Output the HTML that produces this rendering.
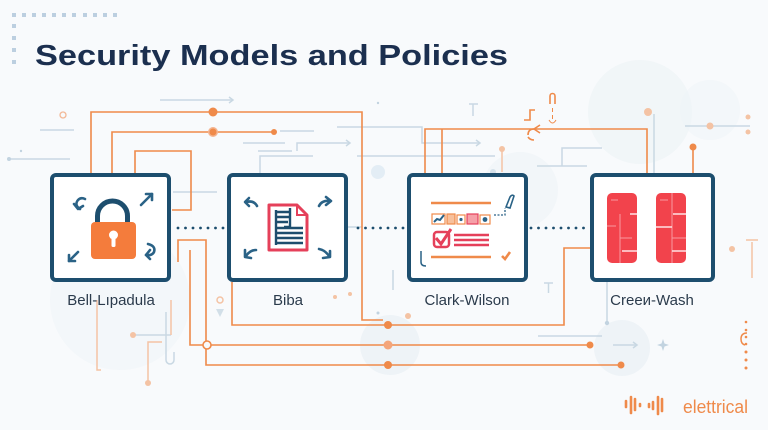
<!DOCTYPE html>
<html><head><meta charset="utf-8"><style>
html,body{margin:0;padding:0;background:#f8fafc;}
svg{display:block;}
</style></head><body>
<svg width="768" height="430" viewBox="0 0 768 430" xmlns="http://www.w3.org/2000/svg">
<rect width="768" height="430" fill="#f8fafc"/>
<!-- faint background circles -->
<g fill="#eef3f7">
<circle cx="640" cy="112" r="52" opacity="0.7"/>
<circle cx="390" cy="345" r="30"/>
<circle cx="622" cy="348" r="28"/>
<circle cx="120" cy="300" r="70" opacity="0.5"/>
<circle cx="520" cy="190" r="38" opacity="0.6"/>
<circle cx="710" cy="110" r="30" opacity="0.5"/>
</g>
<circle cx="378" cy="172" r="7" fill="#e3edf5"/>

<!-- dotted grid top-left -->
<g fill="#bccfe0">
<rect x="12" y="13" width="4" height="4"/><rect x="22" y="13" width="4" height="4"/><rect x="32" y="13" width="4" height="4"/><rect x="42" y="13" width="4" height="4"/><rect x="52" y="13" width="4" height="4"/><rect x="62" y="13" width="4" height="4"/><rect x="72" y="13" width="4" height="4"/><rect x="83" y="13" width="4" height="4"/><rect x="93" y="13" width="4" height="4"/><rect x="103" y="13" width="4" height="4"/><rect x="113" y="13" width="4" height="4"/>
<rect x="12" y="24" width="4" height="4"/><rect x="12" y="36" width="4" height="4"/><rect x="12" y="48" width="4" height="4"/><rect x="12" y="60" width="4" height="4"/>
</g>

<!-- title -->
<text x="35" y="65" font-family="Liberation Sans, sans-serif" font-weight="bold" font-size="29" fill="#1b2f4f" textLength="473" lengthAdjust="spacingAndGlyphs">Security Models and Policies</text>

<!-- light gray decorative lines -->
<g stroke="#c9d8e3" stroke-width="1.5" fill="none">
<path d="M160,100 H233"/><path d="M229,97 L233,100 L229,103"/>
<path d="M40,130 H74"/>
<path d="M9,159 H70"/>
<path d="M243,143 H285"/>
<path d="M280,131 H314"/>
<path d="M258,151 H292"/>
<path d="M297,151 V143 H350"/><path d="M346,140 L350,143 L346,146"/>
<path d="M260,173 V156 H313"/>
<path d="M337,127 H422 V143 H480"/><path d="M476,140 L480,143 L476,146"/>
<path d="M357,156 H495"/>
<path d="M469,104 H478 M473,104 V116"/>
<path d="M562,166 V148 H602"/>
<path d="M537,166 H587"/>
<path d="M685,126 H750"/>
<path d="M654,114 V173"/>
<path d="M173,192 H217"/>
<path d="M538,336 H602"/>
<path d="M607,282 V323"/>
<path d="M613,345 H637"/><path d="M633,342 L637,345 L633,348"/>
<path d="M544,283 H553 M548.5,283 V293"/>
<path d="M393,270 V290"/>
<path d="M166,312 V360 a4,4 0 0 0 8,0 V352"/>
<path d="M133,335 H171"/>
<path d="M348,227 H362"/>
</g>
<g fill="#c2d3e0">
<circle cx="9" cy="159" r="2"/>
<circle cx="21" cy="151" r="1.2"/>
<circle cx="378" cy="103" r="1.2"/>
<circle cx="607" cy="323" r="2.2"/>
<circle cx="493" cy="172" r="3" opacity="0.6"/>
<circle cx="378" cy="313" r="1.5"/>
<path d="M663,339 L664.5,343.5 L669,345 L664.5,346.5 L663,351 L661.5,346.5 L657,345 L661.5,343.5Z"/>
<path d="M216,309 L224,309 L220,317Z" opacity="0.7"/>
</g>
<circle cx="63" cy="115" r="3" fill="none" stroke="#f3b896" stroke-width="1.3"/>

<!-- faint orange decor -->
<g fill="#f4c3a4">
<circle cx="710" cy="126" r="3.5"/>
<circle cx="748" cy="117" r="2.5"/>
<circle cx="748" cy="132" r="2.5"/>
<circle cx="648" cy="112" r="4"/>
<circle cx="502" cy="149" r="3"/>
<circle cx="408" cy="316" r="3"/>
<circle cx="732" cy="249" r="3"/>
<circle cx="335" cy="297" r="2"/>
<circle cx="350" cy="294" r="2"/>
<circle cx="148" cy="383" r="3"/>
<circle cx="133" cy="335" r="3"/>
</g>
<g stroke="#f4c3a4" stroke-width="1.5" fill="none">
<path d="M502,149 V172"/>
<path d="M752,242 V278 M746,240 H758"/>
<path d="M148,383 V342 H162"/>
<path d="M97,300 V370 H101"/>
<path d="M171,300 V335"/>
<circle cx="220" cy="300" r="3"/>
</g>

<!-- orange connector lines -->
<g stroke="#ef8a4a" stroke-width="1.6" fill="none">
<path d="M91,175 V112 H362 V320 H383"/>
<path d="M112,175 V132 H274"/>
<path d="M135,175 V151 H191 V210 H172"/>
<path d="M232,282 V325 H564 V248 H590"/>
<path d="M178,262 V240 H206 V365 H621"/>
<path d="M190,250 V345 H590"/>
<path d="M425,175 V129 H647 V175"/>
<path d="M442,175 V129"/>
<path d="M693,147 V175"/>
<path d="M540,125 L534,129 L540,133"/>
<path d="M535,110 H530 V120 H524 M534,129 q-6,0 -6,6 M528,137 q2,3 6,3"/>
<path d="M550,104 V96 a2.5,2.5 0 0 1 5,0 V104"/>
<path d="M552.5,108 V112 M552.5,115 V119" stroke-width="1"/>
<path d="M549,120 q3.5,6 7,0" stroke-width="1"/>
</g>
<g fill="#ef8a4a">
<circle cx="213" cy="112" r="4.5"/>
<circle cx="213" cy="132" r="5" fill="#f4b592"/>
<circle cx="213" cy="132" r="3.5"/>
<circle cx="274" cy="132" r="3"/>
<circle cx="693" cy="147" r="3.5"/>
<circle cx="388" cy="325" r="4"/>
<circle cx="388" cy="345" r="4.5" fill="#f4a57a"/>
<circle cx="388" cy="365" r="4"/>
<circle cx="590" cy="345" r="3.5"/>
<circle cx="621" cy="365" r="3.5"/>
</g>
<circle cx="207" cy="345" r="4" fill="#f8fafc" stroke="#ef8a4a" stroke-width="1.6"/>

<!-- dotted connectors between boxes -->
<g fill="#1d4e6e">
<circle cx="178" cy="228" r="1.4"/><circle cx="185.5" cy="228" r="1.4"/><circle cx="193" cy="228" r="1.4"/><circle cx="200.5" cy="228" r="1.4"/><circle cx="208" cy="228" r="1.4"/><circle cx="215.5" cy="228" r="1.4"/><circle cx="223" cy="228" r="1.4"/>
<circle cx="358" cy="228" r="1.4"/><circle cx="365.5" cy="228" r="1.4"/><circle cx="373" cy="228" r="1.4"/><circle cx="380.5" cy="228" r="1.4"/><circle cx="388" cy="228" r="1.4"/><circle cx="395.5" cy="228" r="1.4"/><circle cx="403" cy="228" r="1.4"/>
<circle cx="531" cy="228" r="1.4"/><circle cx="538.5" cy="228" r="1.4"/><circle cx="546" cy="228" r="1.4"/><circle cx="553.5" cy="228" r="1.4"/><circle cx="561" cy="228" r="1.4"/><circle cx="568.5" cy="228" r="1.4"/><circle cx="576" cy="228" r="1.4"/><circle cx="583.5" cy="228" r="1.4"/>
</g>

<!-- boxes -->
<g fill="#ffffff" stroke="#1d4e6e" stroke-width="4">
<rect x="52" y="175" width="117" height="105" rx="4"/>
<rect x="229" y="175" width="117" height="105" rx="4"/>
<rect x="409" y="175" width="117" height="105" rx="4"/>
<rect x="592" y="175" width="121" height="105" rx="4"/>
</g>

<!-- Bell-LaPadula icon -->
<path d="M97.5,222 V216 a15,15 0 0 1 30,0 V222" fill="none" stroke="#1d4e6e" stroke-width="5"/>
<rect x="91" y="222" width="45" height="37" rx="4" fill="#f47c3c"/>
<circle cx="113.5" cy="235" r="4.5" fill="#fff"/>
<rect x="111.5" y="235" width="4" height="12" rx="1.5" fill="#fff"/>
<g stroke="#2a6286" stroke-width="2.6" fill="none" stroke-linecap="round" stroke-linejoin="round">
<path d="M80,209 q-6,-4 -2,-9 q3,-3 7,-1"/><path d="M74,204 L78,209 L83,206"/>
<path d="M141,205 L152,194"/><path d="M146,194 L152,194 L152,200"/>
<path d="M78,252 L69,261"/><path d="M69,255 L69,261 L75,261"/>
<path d="M148,244 q8,2 6,8 q-2,4 -8,3"/><path d="M150,250 L146,255 L150,259"/>
</g>

<!-- Biba icon -->
<path d="M269,205 H297 L307,215 V250 H269 Z" fill="#fff" stroke="#e5405a" stroke-width="3" stroke-linejoin="round"/>
<path d="M297,205 V215 H307" fill="none" stroke="#e5405a" stroke-width="2"/>
<g stroke="#1d4e6e" stroke-width="2.4" fill="none">
<path d="M276,210 V245"/>
<path d="M276,212 H290 M276,217 H290 M276,222 H288"/>
<path d="M290,208 V227 H284"/>
<path d="M276,228 H303 M276,233 H303 M276,238 H303 M276,243 H303"/>
</g>
<g stroke="#2a6286" stroke-width="2.6" fill="none" stroke-linecap="round" stroke-linejoin="round">
<path d="M257,206 q-3,-6 -11,-4"/><path d="M249,198 L245,202 L249,206"/>
<path d="M319,206 q3,-6 11,-5"/><path d="M326,197 L331,201 L326,205"/>
<path d="M256,250 q-6,0 -10,6"/><path d="M245,250 L245,257 L251,258"/>
<path d="M319,249 q6,1 10,7"/><path d="M323,258 L330,257 L330,251"/>
</g>

<!-- Clark-Wilson icon -->
<g stroke="#ef8a4a" stroke-width="2.5">
<path d="M431,203 H491"/>
<path d="M431,257 H491"/>
</g>
<g stroke-width="1.2">
<rect x="432" y="214" width="13" height="10" fill="#fff" stroke="#ef8a4a"/>
<path d="M434,222 L437,219 L440,220 L444,215" stroke="#2a6286" stroke-width="2" fill="none"/>
<rect x="447" y="214" width="8" height="10" fill="#f7c09c" stroke="#ef8a4a"/>
<rect x="457" y="215" width="8" height="9" fill="#fff" stroke="#ef8a4a"/>
<circle cx="461" cy="219.5" r="1.6" fill="#2a6286"/>
<rect x="467" y="214" width="11" height="10" fill="#f5a0a8" stroke="#e5405a"/>
<rect x="480" y="215" width="10" height="9" fill="#fff" stroke="#ef8a4a"/>
<circle cx="485" cy="219.5" r="2.4" fill="#2a6286"/>
</g>
<rect x="434" y="232" width="15" height="15" rx="3" fill="#fff" stroke="#e5405a" stroke-width="2.5"/>
<path d="M436,238 L441,244 L451,229" fill="none" stroke="#e5405a" stroke-width="3"/>
<g stroke="#e5405a" stroke-width="2.6">
<path d="M454,235 H489 M454,240 H489 M454,245 H489"/>
</g>
<path d="M494,215 H505 V208" fill="none" stroke="#2a6286" stroke-width="1.3" stroke-dasharray="2,1.5"/>
<path d="M506,207 L510,197 q2,-3 4,-1 L510,208 Z" fill="#fff" stroke="#2a6286" stroke-width="1.6"/>
<path d="M502,256 L505,259 L510,252" fill="none" stroke="#ef8a4a" stroke-width="2.6"/>
<path d="M421,251 V262 q0,4 5,4" fill="none" stroke="#2a6286" stroke-width="1.5"/>

<!-- Brewer-Nash icon -->
<rect x="607" y="193" width="30" height="70" rx="5" fill="#f2434c"/>
<rect x="656" y="193" width="30" height="70" rx="5" fill="#f2434c"/>
<g stroke="#f89aa0" stroke-width="1" fill="none">
<path d="M620,214 V263 M607,226 H616 M620,238 H632"/>
<path d="M672,193 V263 M672,238 H686"/>
<path d="M611,200 H618 M660,200 H668"/>
</g>
<g stroke="#ffe2e4" stroke-width="1.4">
<path d="M630,214 H637 M622,251 H637"/>
<path d="M673,214 H686 M656,227 H672 M672,251 H686"/>
</g>

<!-- labels -->
<g font-family="Liberation Sans, sans-serif" font-size="15" fill="#2b3b4c" text-anchor="middle">
<text x="111" y="305">Bell-Lıpadula</text>
<text x="288" y="305">Biba</text>
<text x="467" y="305">Clark-Wilson</text>
<text x="652" y="305">Creeи-Wash</text>
</g>

<!-- right dashed vertical -->
<g fill="#ef8a4a">
<circle cx="746" cy="322" r="1.3"/><circle cx="746" cy="330" r="1.3"/><circle cx="746" cy="337" r="1.3"/><circle cx="746" cy="344" r="1.3"/><circle cx="746" cy="352" r="1.5"/><circle cx="746" cy="360" r="1.5"/><circle cx="746" cy="368" r="1.5"/>
</g>
<path d="M747,333 q-6,0 -6,6 q0,5 4,6" fill="none" stroke="#ef8a4a" stroke-width="1.5"/>

<!-- logo -->
<g stroke="#ef8a4a" stroke-width="2.6" stroke-linecap="round">
<path d="M626,401 V407"/>
<path d="M631,397 V413"/>
<path d="M635,399 V410"/>
<path d="M640,404 V406"/>
<path d="M649,404 V407"/>
<path d="M653,402 V409"/>
<path d="M658,397 V414"/>
<path d="M662,399 V411"/>
</g>
<text x="683" y="413" font-family="Liberation Sans, sans-serif" font-size="18" fill="#ef8a4a" textLength="65" lengthAdjust="spacingAndGlyphs">elettrical</text>
</svg>
</body></html>
